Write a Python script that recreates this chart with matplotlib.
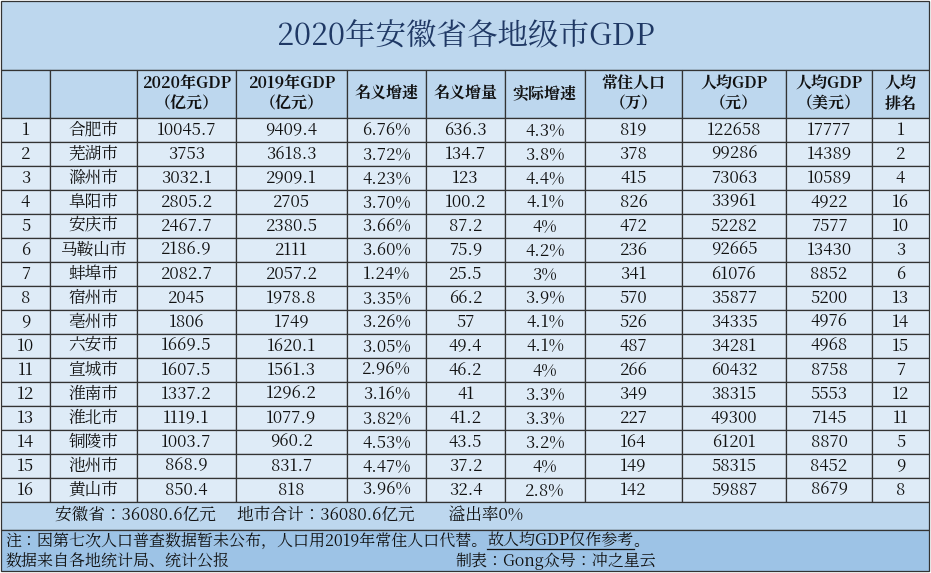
import matplotlib
matplotlib.use("Agg")
import matplotlib.pyplot as plt
from matplotlib import font_manager
from matplotlib.patches import Rectangle

# pick a CJK font the font manager knows about, serif first (reference looks like SimSun)
cjk = sorted(set(f.name for f in font_manager.fontManager.ttflist if "CJK" in f.name))
serif = [n for n in cjk if "Serif" in n]
pref = [n for n in ["Noto Serif CJK SC", "Noto Sans CJK SC"] if n in cjk]
fam = (pref or serif or cjk)[:1] + ["DejaVu Sans"]
plt.rcParams["font.family"] = fam

title = "2020年安徽省各地级市GDP"
headers = ["", "", "2020年GDP\n（亿元）", "2019年GDP\n（亿元）", "名义增速", "名义增量",
           "实际增速", "常住人口\n（万）", "人均GDP\n（元）", "人均GDP\n（美元）", "人均\n排名"]

cities = ["合肥市", "芜湖市", "滁州市", "阜阳市", "安庆市", "马鞍山市", "蚌埠市", "宿州市",
          "亳州市", "六安市", "宣城市", "淮南市", "淮北市", "铜陵市", "池州市", "黄山市"]
gdp2020 = ["10045.7", "3753", "3032.1", "2805.2", "2467.7", "2186.9", "2082.7", "2045",
           "1806", "1669.5", "1607.5", "1337.2", "1119.1", "1003.7", "868.9", "850.4"]
gdp2019 = ["9409.4", "3618.3", "2909.1", "2705", "2380.5", "2111", "2057.2", "1978.8",
           "1749", "1620.1", "1561.3", "1296.2", "1077.9", "960.2", "831.7", "818"]
nominal_rate = ["6.76%", "3.72%", "4.23%", "3.70%", "3.66%", "3.60%", "1.24%", "3.35%",
                "3.26%", "3.05%", "2.96%", "3.16%", "3.82%", "4.53%", "4.47%", "3.96%"]
nominal_inc = ["636.3", "134.7", "123", "100.2", "87.2", "75.9", "25.5", "66.2",
               "57", "49.4", "46.2", "41", "41.2", "43.5", "37.2", "32.4"]
real_rate = ["4.3%", "3.8%", "4.4%", "4.1%", "4%", "4.2%", "3%", "3.9%",
             "4.1%", "4.1%", "4%", "3.3%", "3.3%", "3.2%", "4%", "2.8%"]
population = ["819", "378", "415", "826", "472", "236", "341", "570",
              "526", "487", "266", "349", "227", "164", "149", "142"]
per_cny = ["122658", "99286", "73063", "33961", "52282", "92665", "61076", "35877",
           "34335", "34281", "60432", "38315", "49300", "61201", "58315", "59887"]
per_usd = ["17777", "14389", "10589", "4922", "7577", "13430", "8852", "5200",
           "4976", "4968", "8758", "5553", "7145", "8870", "8452", "8679"]
per_rank = ["1", "2", "4", "16", "10", "3", "6", "13", "14", "15", "7", "12", "11", "5", "9", "8"]

summary = "安徽省：36080.6亿元     地市合计：36080.6亿元        溢出率0%"
note1 = "注：因第七次人口普查数据暂未公布，人口用2019年常住人口代替。"
note1b = "故人均GDP仅作参考"
source = "数据来自各地统计局、统计公报"
maker = "制表：Gong众号：冲之星云"

W, H = 931, 573
fig = plt.figure(figsize=(W / 100, H / 100), dpi=100)
ax = fig.add_axes([0, 0, 1, 1])
ax.set_xlim(0, W)
ax.set_ylim(H, 0)
ax.axis("off")

xs = [1, 50, 137, 236, 347, 426, 505, 585, 682, 786, 872, 929]
line_c = "#333333"
txt_c = "#111111"

def box(x0, y0, x1, y1, fc):
    ax.add_patch(Rectangle((x0, y0), x1 - x0, y1 - y0, facecolor=fc, edgecolor=line_c, lw=0.9))

# title band
box(1, 1, 929, 70, "#bdd7ee")
ax.text(W / 2, 37, title, ha="center", va="center", fontsize=22, color="#1f3864")

# header row
for i in range(11):
    box(xs[i], 70, xs[i + 1], 118, "#bdd7ee")
    ax.text((xs[i] + xs[i + 1]) / 2, 94, headers[i], ha="center", va="center",
            fontsize=11.5, color=txt_c, fontweight="bold", linespacing=1.25)

# data rows
rh = 24
for r in range(len(cities)):
    y0 = 118 + r * rh
    vals = [str(r + 1), cities[r], gdp2020[r], gdp2019[r], nominal_rate[r], nominal_inc[r],
            real_rate[r], population[r], per_cny[r], per_usd[r], per_rank[r]]
    for i in range(11):
        box(xs[i], y0, xs[i + 1], y0 + rh, "#deebf7")
        ax.text((xs[i] + xs[i + 1]) / 2, y0 + rh / 2, vals[i], ha="center", va="center",
                fontsize=12, color=txt_c)

y_end = 118 + len(cities) * rh
box(1, y_end, 929, y_end + 28, "#bdd7ee")
ax.text(55, y_end + 14, summary, ha="left", va="center", fontsize=12, color=txt_c)

box(1, y_end + 28, 929, 571, "#9dc3e6")
t = ax.text(5, y_end + 39, note1, ha="left", va="center", fontsize=11.5, color=txt_c)
fig.canvas.draw()
bb = t.get_window_extent().transformed(ax.transData.inverted())
t2 = ax.text(bb.x1, y_end + 39, note1b, ha="left", va="center", fontsize=11.5, color=txt_c)
fig.canvas.draw()
bb2 = t2.get_window_extent().transformed(ax.transData.inverted())
ax.plot([bb2.x0, bb2.x1], [y_end + 47, y_end + 47], color=txt_c, lw=0.9)
ax.text(bb2.x1, y_end + 39, "。", ha="left", va="center", fontsize=11.5, color=txt_c)
ax.text(5, y_end + 59, source, ha="left", va="center", fontsize=11.5, color=txt_c)
ax.text(455, y_end + 59, maker, ha="left", va="center", fontsize=11.5, color=txt_c)

fig.savefig("out.png", dpi=100)
